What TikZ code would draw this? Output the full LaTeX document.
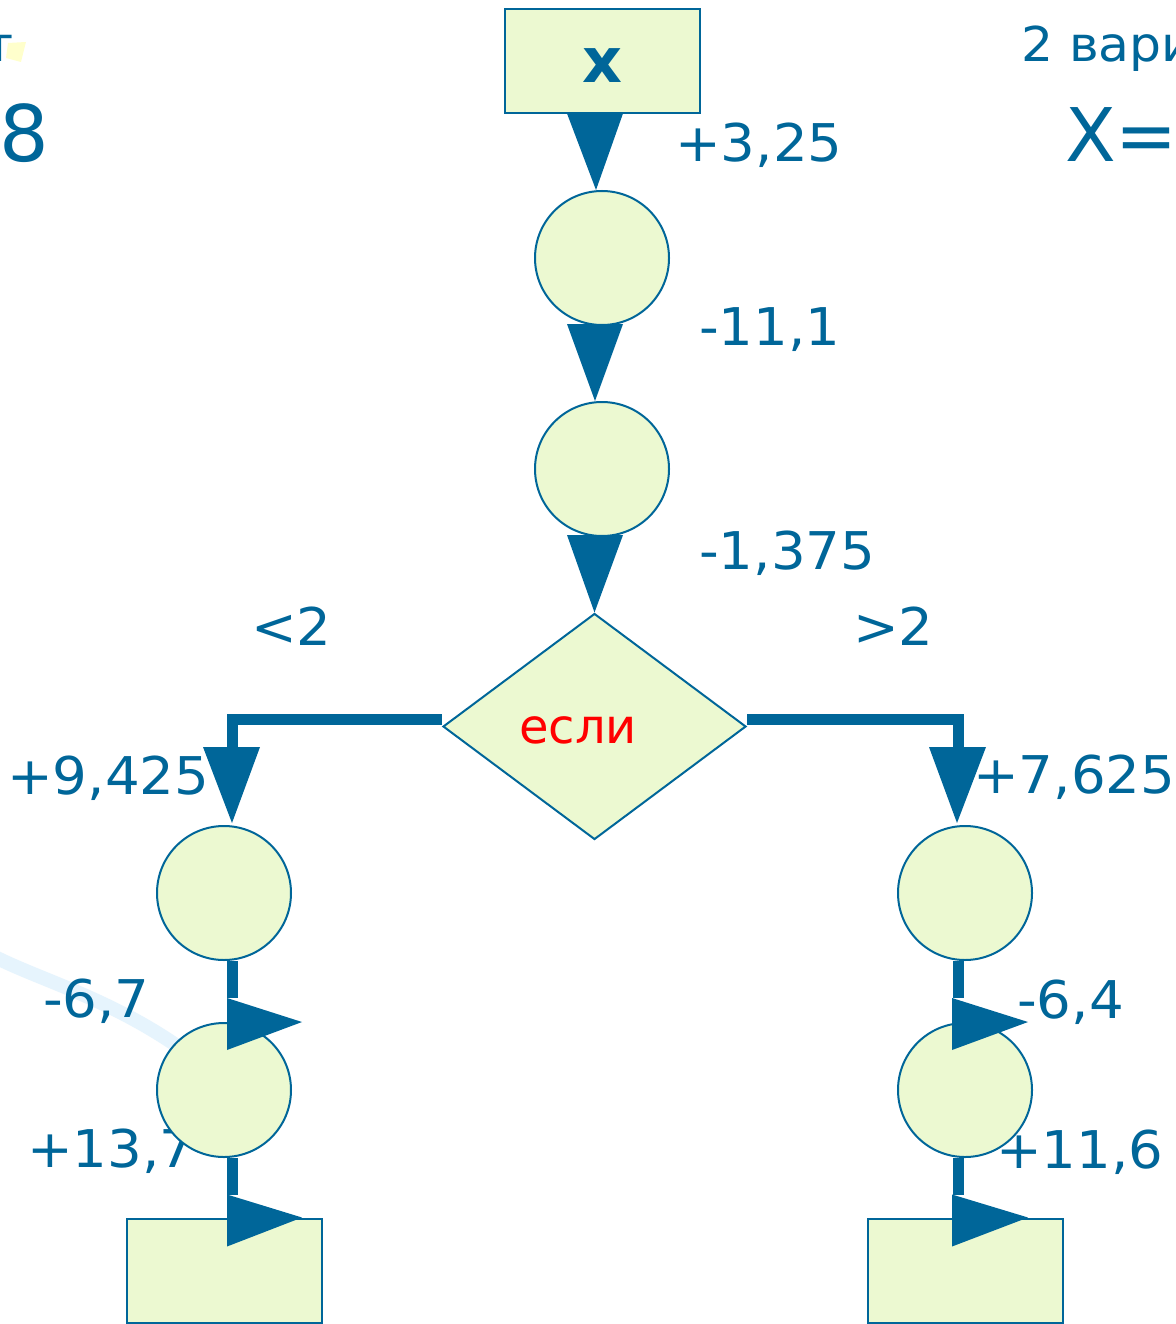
\documentclass[tikz,border=0pt]{standalone}
\usepackage{fontspec}
\setmainfont{DejaVu Sans}
\newfontfamily\widefont[FakeStretch=1.05]{DejaVu Sans}
\usetikzlibrary{shapes.geometric,calc}
\definecolor{bl}{RGB}{0,102,153}
\definecolor{gf}{RGB}{236,249,209}
\definecolor{pale}{RGB}{230,244,253}
\definecolor{yel}{RGB}{255,255,204}
\tikzset{
  lbl/.style={text=bl, font=\widefont\fontsize{52}{60}\selectfont, inner sep=0pt, anchor=base west},
  bgtext/.style={text=bl, inner sep=0pt},
  circ/.style={circle, draw=bl, fill=gf, line width=2pt, minimum size=134pt, inner sep=0pt},
  boxnode/.style={rectangle, draw=bl, fill=gf, line width=2pt, minimum width=195pt, minimum height=104pt, inner sep=0pt},
  conn/.style={draw=bl, line width=11pt},
  head/.style={fill=bl},
}
\begin{document}
\begin{tikzpicture}[x=1pt,y=-1pt]
\useasboundingbox (0,0) rectangle (1175,1324);
\clip (0,0) rectangle (1175,1324);
\fill[white] (0,0) rectangle (1175,1324);
% background decorations
\draw[pale, line width=14pt] (-5,957) .. controls (45,982) and (115,1000) .. (190,1055);
\fill[yel] (8,43) -- (26,42) -- (21,62) -- (6,58) -- cycle;
\node[bgtext, font=\fontsize{48}{48}\selectfont, anchor=base east] (v1) at (14,62) {1 вариант};
\node[bgtext, font=\fontsize{78}{78}\selectfont, anchor=base west] (eight) at (-1,162) {8};
\node[bgtext, font=\widefont\fontsize{48}{48}\selectfont, anchor=base west] (v2) at (1021,62) {2 вариант};
\node[bgtext, font=\fontsize{74}{74}\selectfont, anchor=base west] (xeq) at (1065,162) {X=};
% labels
\node[lbl] (t325) at (675,162) {+3,25};
\node[lbl] (t111) at (699,345) {-11,1};
\node[lbl] (t1375) at (699,569) {-1,375};
\node[lbl] (tlt) at (251,645) {<2};
\node[lbl] (tgt) at (853,645) {>2};
\node[lbl] (t9425) at (7,794) {+9,425};
\node[lbl] (t7625) at (973,793) {+7,625};
\node[lbl] (t67) at (43,1017) {-6,7};
\node[lbl] (t64) at (1017,1018) {-6,4};
\node[lbl] (t137) at (27,1167) {+13,7};
\node[lbl] (t116) at (996,1168) {+11,6};
% shapes
\node[boxnode] (xb) at (602,61.5) {};
\node[text=bl, font=\fontsize{62}{62}\selectfont\bfseries, inner sep=0pt, anchor=base] (xt) at (602,83) {x};
\node[circ] (c1) at (602,258) {};
\node[circ] (c2) at (602,469) {};
\node[diamond, draw=bl, fill=gf, line width=2pt, minimum width=303pt, minimum height=226pt, inner sep=0pt] (dia) at (594.5,726.5) {};
\node[text=red, font=\fontsize{48}{48}\selectfont, inner sep=0pt, anchor=base] (esli) at (578,743) {если};
\node[circ] (l1) at (224,893) {};
\node[circ] (l2) at (224,1090) {};
\node[circ] (r1) at (965,893) {};
\node[circ] (r2) at (965,1090) {};
\node[boxnode] (lb) at (224.5,1270.5) {};
\node[boxnode] (rb) at (965,1270.5) {};
% connectors
\fill[head] ($(xb.south)+(-35,-1)$) -- ($(xb.south)+(21,-1)$) -- ($(c1.north)+(-6,0)$) -- cycle;
\fill[head] ($(c1.south)+(-35,-2)$) -- ($(c1.south)+(21,-2)$) -- ($(c2.north)+(-7,0)$) -- cycle;
\fill[head] ($(c2.south)+(-35,-2)$) -- ($(c2.south)+(21,-2)$) -- (dia.north) -- cycle;
\draw[conn] ($(dia.west)+(0,-7.5)$) -| ($(l1.north)+(8,-78)$);
\fill[head] ($(l1.north)+(-21,-78)$) -- ($(l1.north)+(36,-78)$) -- ($(l1.north)+(8,-2)$) -- cycle;
\draw[conn] ($(dia.east)+(0,-7.5)$) -| ($(r1.north)+(-7,-78)$);
\fill[head] ($(r1.north)+(-36,-78)$) -- ($(r1.north)+(21,-78)$) -- ($(r1.north)+(-8,-2)$) -- cycle;
\draw[conn] ($(l1.south)+(8,0)$) -- ($(l2.north)+(8,-24)$);
\fill[head] ($(l2.north)+(3,-24)$) -- ($(l2.north)+(3,28)$) -- ($(l2.north)+(78,0)$) -- cycle;
\draw[conn] ($(l2.south)+(8,0)$) -- ($(lb.north)+(7.5,-23)$);
\fill[head] ($(lb.north)+(2.5,-23)$) -- ($(lb.north)+(2.5,29)$) -- ($(lb.north)+(77.5,0)$) -- cycle;
\draw[conn] ($(r1.south)+(-7,0)$) -- ($(r2.north)+(-7,-24)$);
\fill[head] ($(r2.north)+(-13,-24)$) -- ($(r2.north)+(-13,28)$) -- ($(r2.north)+(63,0)$) -- cycle;
\draw[conn] ($(r2.south)+(-7,0)$) -- ($(rb.north)+(-7,-23)$);
\fill[head] ($(rb.north)+(-13,-23)$) -- ($(rb.north)+(-13,29)$) -- ($(rb.north)+(63,0)$) -- cycle;
\end{tikzpicture}
\end{document}
